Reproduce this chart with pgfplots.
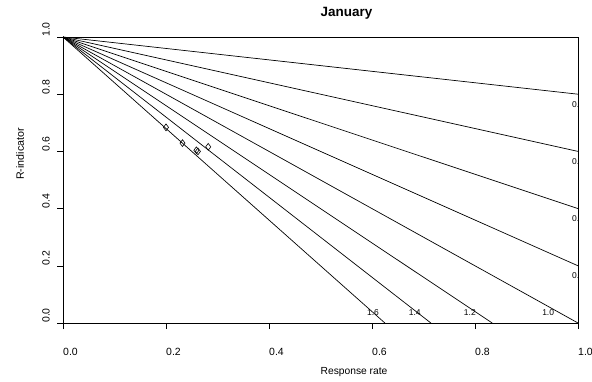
\documentclass[border=0pt]{standalone}
\usepackage{pgfplots}
\pgfplotsset{compat=1.18}
\usepackage{fontspec}
\setmainfont{Liberation Sans}
\begin{document}
\begin{tikzpicture}[x=1bp,y=1bp]
\path[use as bounding box] (0,0) rectangle (592,381);
\begin{axis}[at={(63bp,58bp)}, anchor=south west, width=515bp, height=286bp, scale only axis,
  xmin=0, xmax=1, ymin=0, ymax=1,
  xtick={0,0.2,0.4,0.6,0.8,1}, ytick={0,0.2,0.4,0.6,0.8,1},
  xtick pos=bottom, ytick pos=left, tick align=outside,
  major tick length=6bp,
  tick style={black, line width=0.6pt},
  axis line style={line width=0.6pt},
  /pgf/number format/assume math mode=true,
  /pgf/number format/fixed, /pgf/number format/fixed zerofill, /pgf/number format/precision=1,
  tick label style={font=\fontsize{10.5}{12}\selectfont},
  yticklabel style={xshift=-7bp, rotate=90, anchor=south west, inner sep=0pt},
  xticklabel style={anchor=north west, inner sep=0pt, yshift=-18.5bp},
  clip=true]
\addplot[black, line width=0.7pt] coordinates {(0,1) (1,0.8)};
\addplot[black, line width=0.7pt] coordinates {(0,1) (1,0.6)};
\addplot[black, line width=0.7pt] coordinates {(0,1) (1,0.4)};
\addplot[black, line width=0.7pt] coordinates {(0,1) (1,0.2)};
\addplot[black, line width=0.7pt] coordinates {(0,1) (1,0)};
\addplot[black, line width=0.7pt] coordinates {(0,1) (0.8333,0)};
\addplot[black, line width=0.7pt] coordinates {(0,1) (0.7143,0)};
\addplot[black, line width=0.7pt] coordinates {(0,1) (0.625,0)};
\addplot[only marks, mark=diamond, mark size=3.4bp, mark options={black, line width=0.6pt}] coordinates {
(0.200,0.684) (0.232,0.629) (0.259,0.604) (0.262,0.600) (0.282,0.616)};
\begin{scope}
\clip (rel axis cs:0,0) rectangle (rel axis cs:1,1);
\node[font=\fontsize{8.5}{10}\selectfont, inner sep=0pt] at (axis cs:1,0.765) {0.8};
\node[font=\fontsize{8.5}{10}\selectfont, inner sep=0pt] at (axis cs:1,0.565) {0.6};
\node[font=\fontsize{8.5}{10}\selectfont, inner sep=0pt] at (axis cs:1,0.365) {0.4};
\node[font=\fontsize{8.5}{10}\selectfont, inner sep=0pt] at (axis cs:1,0.165) {0.2};
\end{scope}
\node[font=\fontsize{8.5}{10}\selectfont, inner sep=0pt] at (axis cs:0.602,0.035) {1.6};
\node[font=\fontsize{8.5}{10}\selectfont, inner sep=0pt] at (axis cs:0.683,0.035) {1.4};
\node[font=\fontsize{8.5}{10}\selectfont, inner sep=0pt] at (axis cs:0.790,0.035) {1.2};
\node[font=\fontsize{8.5}{10}\selectfont, inner sep=0pt] at (axis cs:0.942,0.035) {1.0};
\end{axis}
\node[font=\bfseries\fontsize{13.5}{15}\selectfont, anchor=west, inner sep=0pt] at (320.5,368) {January};
\node[font=\fontsize{10.3}{12}\selectfont, anchor=west, inner sep=0pt] at (320.5,9) {Response rate};
\node[font=\fontsize{10.7}{12}\selectfont, rotate=90, anchor=west, inner sep=0pt] at (20,201) {R-indicator};
\end{tikzpicture}
\end{document}
